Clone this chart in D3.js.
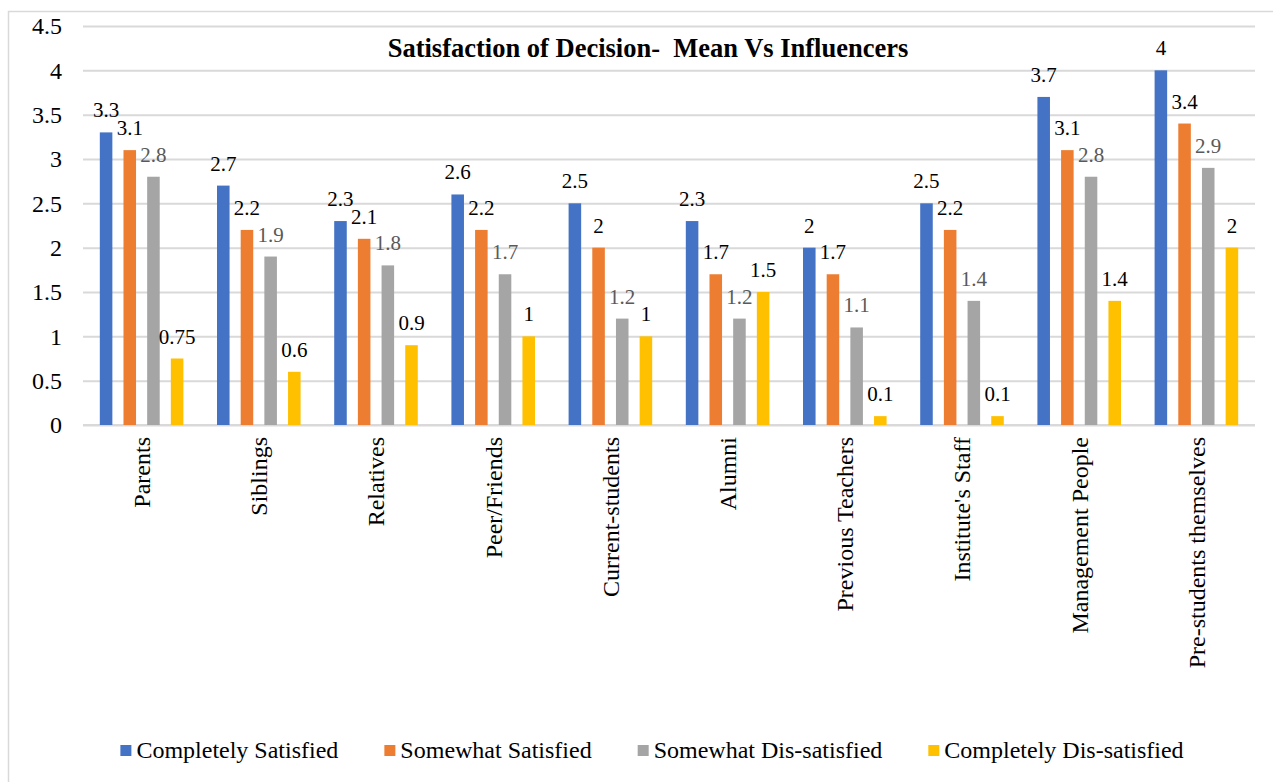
<!DOCTYPE html>
<html>
<head>
<meta charset="utf-8">
<script src="https://cdn.jsdelivr.net/npm/d3@7"></script>
<style>
  body { margin: 0; background: #fff; }
</style>
</head>
<body>
<div id="chart"></div>
<script>
// Data
const categories = ["Parents", "Siblings", "Relatives", "Peer/Friends", "Current-students",
  "Alumni", "Previous Teachers", "Institute's Staff", "Management People", "Pre-students themselves"];
const seriesNames = ["Completely Satisfied", "Somewhat Satisfied", "Somewhat Dis-satisfied", "Completely Dis-satisfied"];
const completelySatisfied = [3.3, 2.7, 2.3, 2.6, 2.5, 2.3, 2, 2.5, 3.7, 4];
const somewhatSatisfied = [3.1, 2.2, 2.1, 2.2, 2, 1.7, 1.7, 2.2, 3.1, 3.4];
const somewhatDissatisfied = [2.8, 1.9, 1.8, 1.7, 1.2, 1.2, 1.1, 1.4, 2.8, 2.9];
const completelyDissatisfied = [0.75, 0.6, 0.9, 1, 1, 1.5, 0.1, 0.1, 1.4, 2];
const yTicks = [0, 0.5, 1, 1.5, 2, 2.5, 3, 3.5, 4, 4.5];
const colors = ["#4472C4", "#ED7D31", "#A5A5A5", "#FFC000"];
const labelColors = ["#000", "#000", "#595959", "#000"];

const seriesValues = [completelySatisfied, somewhatSatisfied, somewhatDissatisfied, completelyDissatisfied];
const data = categories.map((c, i) => ({
  category: c,
  values: seriesNames.map((s, j) => ({ series: s, idx: j, value: seriesValues[j][i] }))
}));

const serif = "'Liberation Serif'";

// Dimensions
const width = 1273;
const height = 782;

const svg = d3.select("#chart")
  .append("svg")
    .attr("width", width)
    .attr("height", height)
    .style("font-family", serif);

// chart frame
svg.append("rect")
  .attr("x", 8.5)
  .attr("y", 11.5)
  .attr("width", 1300)
  .attr("height", 800)
  .attr("fill", "#fff")
  .attr("stroke", "#D9D9D9")
  .attr("stroke-width", 1.5);

const x0 = d3.scaleBand()
  .domain(categories)
  .range([83, 1255]);
const x1 = d3.scaleBand()
  .domain(seriesNames)
  .range([0, x0.bandwidth()])
  .paddingInner(0.47)
  .paddingOuter(0.71);
const y = d3.scaleLinear()
  .domain([0, 4.5])
  .range([425, 26]);

// Gridlines + y labels
const yAxis = d3.axisLeft(y)
  .tickValues(yTicks)
  .tickSize(-(1255 - 83))
  .tickPadding(21)
  .tickFormat(d => d);
const yG = svg.append("g")
  .attr("class", "axis axis-y")
  .attr("transform", "translate(83,0)")
  .call(yAxis);
yG.select(".domain").remove();
yG.selectAll(".tick line")
  .attr("stroke", "#D9D9D9")
  .attr("stroke-width", 2);
yG.selectAll(".tick text")
  .attr("font-size", 24)
  .attr("fill", "#000")
  .style("font-family", serif);

// x axis line
svg.append("line")
  .attr("x1", 83).attr("x2", 1255)
  .attr("y1", y(0)).attr("y2", y(0))
  .attr("stroke", "#D9D9D9")
  .attr("stroke-width", 2);

// Title
svg.append("text")
  .attr("x", 648)
  .attr("y", 57)
  .attr("text-anchor", "middle")
  .attr("font-size", 26.5)
  .attr("font-weight", "bold")
  .style("font-family", serif)
  .style("white-space", "pre")
  .text("Satisfaction of Decision-  Mean Vs Influencers");

// Bars
const groups = svg.append("g")
    .attr("class", "groups")
  .selectAll(".group")
  .data(data)
  .join("g")
    .attr("class", "group")
    .attr("transform", d => `translate(${x0(d.category)},0)`);

groups.selectAll("rect")
  .data(d => d.values)
  .join("rect")
    .attr("x", d => x1(d.series))
    .attr("y", d => y(d.value))
    .attr("width", x1.bandwidth())
    .attr("height", d => y(0) - y(d.value))
    .attr("fill", d => colors[d.idx]);

groups.selectAll(".val")
  .data(d => d.values)
  .join("text")
    .attr("class", "val")
    .attr("x", d => x1(d.series) + x1.bandwidth() / 2)
    .attr("y", d => y(d.value) - 15)
    .attr("text-anchor", "middle")
    .attr("font-size", 21)
    .attr("fill", d => labelColors[d.idx])
    .style("font-family", serif)
    .text(d => d.value);

// Category labels
svg.append("g")
  .selectAll("text")
  .data(categories)
  .join("text")
    .attr("transform", d => `translate(${x0(d) + x0.bandwidth() / 2},437) rotate(-90)`)
    .attr("text-anchor", "end")
    .attr("dy", "0.35em")
    .attr("font-size", 24)
    .attr("fill", "#000")
    .style("font-family", serif)
    .text(d => d);

// Legend
const legend = svg.append("g").attr("class", "legend");
const items = legend.selectAll("g")
  .data(seriesNames)
  .join("g");
items.append("rect")
  .attr("width", 11)
  .attr("height", 11)
  .attr("y", 745)
  .attr("fill", (d, i) => colors[i]);
items.append("text")
  .attr("x", 16)
  .attr("y", 758)
  .attr("font-size", 24)
  .attr("fill", "#000")
  .style("font-family", serif)
  .text(d => d);

let widths = [];
items.each(function() {
  widths.push(this.querySelector("text").getComputedTextLength() + 16);
});
const gap = 46;
const total = d3.sum(widths) + gap * (widths.length - 1);
let cursor = 652 - total / 2;
items.attr("transform", (d, i) => {
  const tx = cursor;
  cursor += widths[i] + gap;
  return `translate(${tx},0)`;
});
</script>
</body>
</html>
